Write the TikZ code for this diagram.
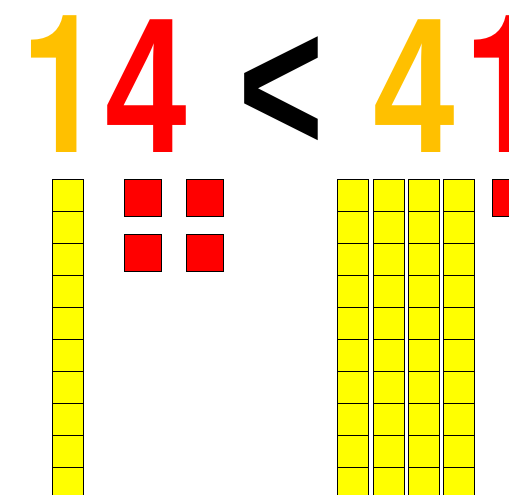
\documentclass[tikz,border=0pt]{standalone}
\usepackage{fontspec}
\setmainfont{Liberation Sans}
\newfontfamily\onefont{TeX Gyre Heros}
\definecolor{orng}{HTML}{FFC000}
\definecolor{yel}{HTML}{FFFF00}
\definecolor{rd}{HTML}{FF0000}
\newcommand{\narrowglyph}[1]{\scalebox{0.76}[1]{#1}}
\tikzset{
  digit/.style={inner sep=0pt, outer sep=0pt, anchor=base west, font=\fontsize{193}{193}\selectfont\bfseries},
  unitcell/.style={draw=black, line width=1pt, fill=yel},
  onecube/.style={draw=black, line width=1pt, fill=rd}
}
\begin{document}
\begin{tikzpicture}[x=1pt,y=-1pt]
\useasboundingbox (0,0) rectangle (509,495);
\begin{scope}
\clip (0,0) rectangle (509,495);
% numbers
\node[digit, text=orng] (d1) at (21,152.5) {\onefont\narrowglyph{1}};
\node[digit, text=rd] (d2) at (105.8,152.5) {\narrowglyph{4}};
\node[digit, text=black] (lt) at (238.7,152.5) {\narrowglyph{<}};
\node[digit, text=orng] (d3) at (373.2,152.5) {\narrowglyph{4}};
\node[digit, text=rd] (d4) at (464,152.5) {\onefont\narrowglyph{1}};
% left ten-rod
\foreach \i in {0,...,9}
  \draw[unitcell] (52.3,179.3+32*\i) rectangle (83.3,211.3+32*\i);
% four ones
\draw[onecube] (124.3,179.3) rectangle (161.7,216.3);
\draw[onecube] (186.3,179.3) rectangle (223.7,216.3);
\draw[onecube] (124.3,234) rectangle (161.7,271.3);
\draw[onecube] (186.3,234) rectangle (223.7,271.3);
% four ten-rods
\foreach \x in {337.3,373.3,408.3,443.3}
  \foreach \i in {0,...,9}
    \draw[unitcell] (\x,179.3+32*\i) rectangle (\x+31,211.3+32*\i);
% one
\draw[onecube] (492.3,179.3) rectangle (529.7,216.3);
\end{scope}
\end{tikzpicture}
\end{document}
